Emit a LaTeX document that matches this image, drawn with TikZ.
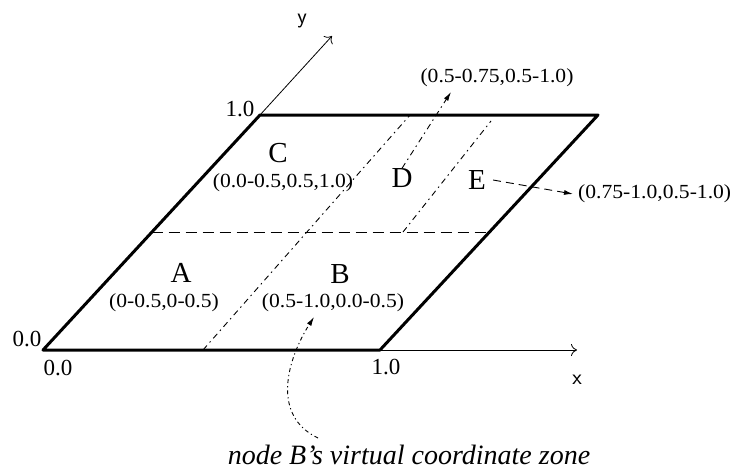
\documentclass[tikz,border=0pt]{standalone}
\usepackage{fontspec}
\setmainfont{Liberation Serif}
\usetikzlibrary{arrows.meta}
\begin{document}
\begin{tikzpicture}[x=1pt,y=-1pt,
  edge/.style={line width=3pt, line cap=round, line join=round},
  axis/.style={line width=0.8pt, -{To[length=6pt,width=12pt]}},
  halfline/.style={line width=1.4pt, dash pattern=on 11pt off 6pt},
  divline/.style={line width=0.9pt, dash pattern=on 6pt off 4pt on 1.5pt off 4pt},
  ptr/.style={line width=0.9pt, -{Latex[length=9pt,width=5pt]}},
  zone/.style={font=\fontsize{29}{32}\selectfont, inner sep=0pt},
  rng/.style={font=\fontsize{20}{23}\selectfont, inner sep=0pt},
  tick/.style={font=\fontsize{23}{26}\selectfont, inner sep=0pt},
  axlbl/.style={font=\sffamily\fontsize{22}{24}\selectfont, inner sep=0pt},
]
\path[use as bounding box] (0,0) rectangle (733,472);

% corners
\coordinate (O) at (43,350);
\coordinate (XR) at (380,350);
\coordinate (TR) at (598,115);
\coordinate (TL) at (260,115);
\coordinate (ML) at (151.5,232.5);
\coordinate (MR) at (489,232.5);
\coordinate (yend) at (332,36);
\coordinate (xend) at (577,350);

% axes
\draw[axis] (TL) -- (yend);
\draw[axis] (XR) -- (xend);

% square
\draw[edge] (O) -- (XR) -- (TR) -- (TL) -- cycle;

% dividers
\draw[halfline] (ML) -- (MR);
\coordinate (d1a) at (203,350);
\coordinate (d1b) at (410,115);
\coordinate (d2a) at (403,232);
\coordinate (d2b) at (491,121);
\draw[divline] (d1a) -- (d1b);
\draw[divline] (d2a) -- (d2b);

% axis labels and ticks
\node[axlbl] (ylbl) at (302,21) {y};
\node[axlbl] (xlbl) at (577,380) {x};
\node[tick] (t1y) at (240,109) {1.0};
\node[tick] (t0y) at (27,339) {0.0};
\node[tick] (t0x) at (58,368) {0.0};
\node[tick] (t1x) at (386,367) {1.0};

% zone letters
\node[zone] (C) at (278,153) {C};
\node[zone] (D) at (402,178) {D};
\node[zone] (E) at (477,180) {E};
\node[zone] (A) at (181,273) {A};
\node[zone] (B) at (340,274) {B};

% ranges
\node[rng] (rC) at (283,183) {\scalebox{1.08}[1]{(0.0-0.5,0.5,1.0)}};
\node[rng] (rA) at (164,303) {\scalebox{1.08}[1]{(0-0.5,0-0.5)}};
\node[rng] (rB) at (333,303) {\scalebox{1.08}[1]{(0.5-1.0,0.0-0.5)}};
\node[rng] (rD) at (497,78) {\scalebox{1.08}[1]{(0.5-0.75,0.5-1.0)}};
\node[rng, anchor=west] (rE) at (578,194) {\scalebox{1.08}[1]{(0.75-1.0,0.5-1.0)}};

% bottom caption
\node[font=\itshape\fontsize{28}{30}\selectfont, inner sep=0pt] (cap) at (409,455) {node B's virtual coordinate zone};

% pointers
\coordinate (dtip) at (451,92);
\coordinate (etip) at (573,194);
\coordinate (btip) at (314,317);
\coordinate (bstart) at (318,438);
\draw[ptr, divline] (D.north) -- (dtip);
\draw[ptr, dash pattern=on 8pt off 5pt] ([xshift=7pt]E.east) -- (etip);
\draw[ptr, dash pattern=on 4pt off 3pt on 1.2pt off 3pt] (bstart) .. controls (270,415) and (288,358) .. (btip);
\end{tikzpicture}
\end{document}
